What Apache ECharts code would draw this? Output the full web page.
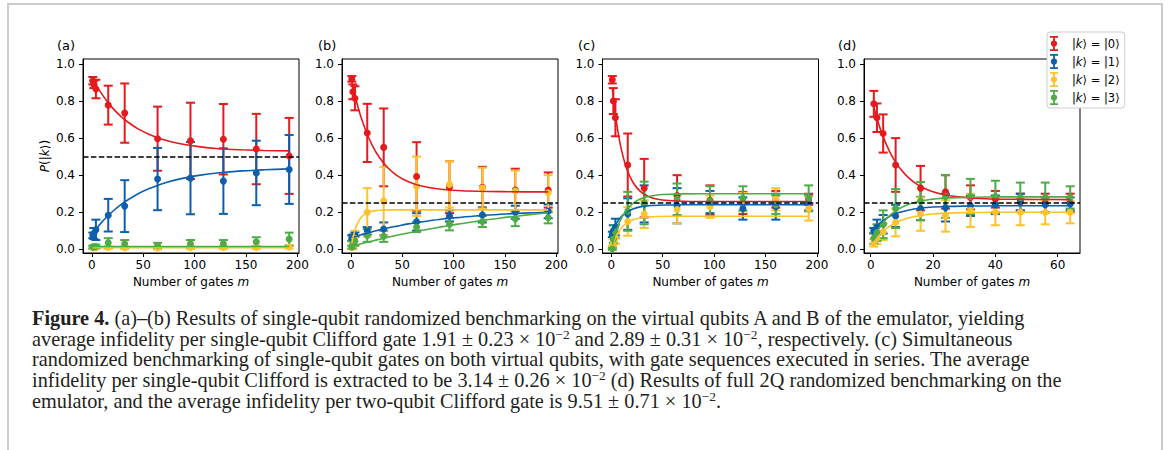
<!DOCTYPE html>
<html>
<head>
<meta charset="utf-8">
<script src="https://cdn.jsdelivr.net/npm/echarts@6/dist/echarts.min.js"></script>
<style>
  html, body { margin: 0; padding: 0; background: #fff; }
  #wrap { position: relative; width: 1168px; height: 450px; overflow: hidden; }
  #frame { position: absolute; left: 7px; top: 3px; width: 1156px; height: 470px; border: 2px solid #cbcbcb; box-sizing: border-box; }
  #chart { position: absolute; left: 0; top: 0; width: 1168px; height: 300px; }
  #caption { position: absolute; left: 32px; top: 308px; font-family: "Liberation Serif", serif; font-size: 20.3px; line-height: 20.7px; color: #231f20; white-space: nowrap; }
  #caption sup { font-size: 0.66em; line-height: 0; vertical-align: 0; position: relative; top: -0.5em; }
</style>
</head>
<body>
<div id="wrap">
  <div id="frame"></div>
  <div id="chart"></div>
  <div id="caption">
    <b>Figure 4.</b> (a)–(b) Results of single-qubit randomized benchmarking on the virtual qubits A and B of the emulator, yielding<br>
    average infidelity per single-qubit Clifford gate 1.91 ± 0.23 × 10<sup>−2</sup> and 2.89 ± 0.31 × 10<sup>−2</sup>, respectively. (c) Simultaneous<br>
    randomized benchmarking of single-qubit gates on both virtual qubits, with gate sequences executed in series. The average<br>
    infidelity per single-qubit Clifford is extracted to be 3.14 ± 0.26 × 10<sup>−2</sup> (d) Results of full 2Q randomized benchmarking on the<br>
    emulator, and the average infidelity per two-qubit Clifford gate is 9.51 ± 0.71 × 10<sup>−2</sup>.
  </div>
</div>
<script>
// number of gates m
const mABC = [1, 2, 4, 16, 32, 64, 96, 128, 160, 192];
const mD = [1, 2, 4, 8, 16, 24, 32, 40, 48, 56, 64];
const fitMABC = [1, 3, 6, 10, 15, 21, 28, 36, 45, 56, 70, 86, 104, 124, 146, 168, 192];
const fitMD = [1, 2, 3, 5, 7, 9, 12, 15, 19, 24, 30, 37, 45, 54, 64];

const stateNames = ['|k⟩ = |0⟩', '|k⟩ = |1⟩', '|k⟩ = |2⟩', '|k⟩ = |3⟩'];
const panelLabels = ['(a)', '(b)', '(c)', '(d)'];
const refLevels = [0.5, 0.25, 0.25, 0.25];
const xTicksABC = [0, 50, 100, 150, 200];
const xTicksD = [0, 20, 40, 60];
const yTicks = [0, 0.2, 0.4, 0.6, 0.8, 1.0];

// rows: |0>, |1>, |2>, |3>
const aMean = [
  [0.91, 0.89, 0.865, 0.778, 0.735, 0.597, 0.585, 0.594, 0.541, 0.504],
  [0.075, 0.085, 0.105, 0.184, 0.233, 0.379, 0.384, 0.368, 0.412, 0.431],
  [0.008, 0.008, 0.009, 0.01, 0.008, 0.007, 0.009, 0.01, 0.01, 0.012],
  [0.012, 0.013, 0.015, 0.035, 0.03, 0.02, 0.03, 0.03, 0.04, 0.055]
];
const aErr = [
  [0.02, 0.02, 0.05, 0.105, 0.16, 0.173, 0.206, 0.19, 0.19, 0.205],
  [0.015, 0.03, 0.055, 0.088, 0.14, 0.168, 0.195, 0.177, 0.174, 0.186],
  [0.006, 0.006, 0.006, 0.007, 0.007, 0.007, 0.007, 0.008, 0.008, 0.008],
  [0.008, 0.008, 0.01, 0.025, 0.02, 0.015, 0.02, 0.02, 0.025, 0.035]
];
const aFit = [
  [0.918, 0.898, 0.870, 0.836, 0.798, 0.758, 0.719, 0.683, 0.650, 0.620, 0.591, 0.570, 0.554, 0.543, 0.537, 0.533, 0.531],
  [0.088, 0.102, 0.122, 0.148, 0.177, 0.208, 0.240, 0.270, 0.300, 0.328, 0.357, 0.380, 0.399, 0.413, 0.423, 0.429, 0.434],
  [0.009, 0.009, 0.009, 0.009, 0.009, 0.009, 0.009, 0.009, 0.009, 0.009, 0.009, 0.009, 0.009, 0.009, 0.009, 0.009, 0.009],
  [0.015, 0.015, 0.015, 0.015, 0.015, 0.015, 0.015, 0.015, 0.015, 0.015, 0.015, 0.015, 0.015, 0.015, 0.015, 0.015, 0.015]
];

const bMean = [
  [0.92, 0.85, 0.815, 0.628, 0.55, 0.393, 0.335, 0.335, 0.32, 0.32],
  [0.06, 0.065, 0.08, 0.10, 0.11, 0.148, 0.18, 0.185, 0.20, 0.205],
  [0.01, 0.02, 0.06, 0.20, 0.26, 0.34, 0.35, 0.33, 0.315, 0.305],
  [0.012, 0.03, 0.045, 0.075, 0.07, 0.12, 0.135, 0.15, 0.165, 0.17]
];
const bErr = [
  [0.015, 0.04, 0.065, 0.157, 0.21, 0.185, 0.14, 0.11, 0.115, 0.095],
  [0.015, 0.015, 0.012, 0.02, 0.035, 0.047, 0.03, 0.04, 0.035, 0.037],
  [0.008, 0.02, 0.04, 0.13, 0.185, 0.16, 0.125, 0.11, 0.11, 0.095],
  [0.008, 0.015, 0.025, 0.035, 0.03, 0.027, 0.033, 0.03, 0.04, 0.03]
];
const bFit = [
  [0.904, 0.854, 0.788, 0.712, 0.634, 0.560, 0.494, 0.440, 0.398, 0.365, 0.340, 0.325, 0.317, 0.313, 0.311, 0.310, 0.310],
  [0.062, 0.066, 0.071, 0.078, 0.086, 0.095, 0.105, 0.115, 0.125, 0.137, 0.149, 0.161, 0.171, 0.181, 0.189, 0.195, 0.200],
  [0.032, 0.082, 0.133, 0.171, 0.194, 0.206, 0.211, 0.213, 0.213, 0.213, 0.213, 0.213, 0.213, 0.213, 0.213, 0.213, 0.213],
  [0.017, 0.020, 0.024, 0.030, 0.037, 0.045, 0.054, 0.065, 0.076, 0.088, 0.103, 0.119, 0.136, 0.152, 0.169, 0.183, 0.197]
];

const cMean = [
  [0.915, 0.80, 0.71, 0.455, 0.33, 0.29, 0.265, 0.25, 0.27, 0.27],
  [0.08, 0.10, 0.12, 0.19, 0.245, 0.235, 0.255, 0.22, 0.23, 0.25],
  [0.008, 0.04, 0.06, 0.15, 0.19, 0.215, 0.23, 0.255, 0.27, 0.22],
  [0.003, 0.055, 0.095, 0.205, 0.25, 0.27, 0.26, 0.275, 0.24, 0.275]
];
const cErr = [
  [0.02, 0.07, 0.10, 0.17, 0.158, 0.11, 0.08, 0.06, 0.045, 0.03],
  [0.015, 0.03, 0.045, 0.085, 0.10, 0.095, 0.06, 0.06, 0.07, 0.04],
  [0.008, 0.015, 0.03, 0.077, 0.075, 0.075, 0.06, 0.05, 0.06, 0.065],
  [0.005, 0.02, 0.035, 0.105, 0.115, 0.085, 0.08, 0.065, 0.05, 0.07]
];
const cFit = [
  [0.871, 0.771, 0.651, 0.534, 0.435, 0.362, 0.314, 0.285, 0.270, 0.263, 0.259, 0.258, 0.258, 0.258, 0.258, 0.258, 0.258],
  [0.094, 0.119, 0.149, 0.178, 0.201, 0.218, 0.229, 0.235, 0.238, 0.239, 0.240, 0.240, 0.240, 0.240, 0.240, 0.240, 0.240],
  [0.018, 0.048, 0.083, 0.116, 0.141, 0.159, 0.169, 0.174, 0.177, 0.178, 0.178, 0.178, 0.178, 0.178, 0.178, 0.178, 0.178],
  [0.024, 0.066, 0.118, 0.170, 0.214, 0.248, 0.271, 0.285, 0.293, 0.297, 0.299, 0.300, 0.300, 0.300, 0.300, 0.300, 0.300]
];

const dMean = [
  [0.785, 0.71, 0.625, 0.455, 0.33, 0.31, 0.28, 0.27, 0.255, 0.25, 0.25],
  [0.10, 0.12, 0.135, 0.18, 0.22, 0.225, 0.235, 0.24, 0.255, 0.24, 0.245],
  [0.035, 0.06, 0.095, 0.145, 0.19, 0.18, 0.21, 0.20, 0.20, 0.20, 0.20],
  [0.06, 0.09, 0.135, 0.22, 0.26, 0.285, 0.285, 0.285, 0.28, 0.28, 0.28]
];
const dErr = [
  [0.07, 0.077, 0.103, 0.145, 0.12, 0.09, 0.065, 0.045, 0.045, 0.05, 0.05],
  [0.015, 0.04, 0.05, 0.06, 0.063, 0.075, 0.055, 0.05, 0.045, 0.04, 0.035],
  [0.02, 0.03, 0.045, 0.075, 0.09, 0.085, 0.09, 0.07, 0.07, 0.065, 0.06],
  [0.03, 0.045, 0.075, 0.105, 0.103, 0.115, 0.095, 0.085, 0.08, 0.08, 0.06]
];
const dFit = [
  [0.768, 0.707, 0.654, 0.566, 0.497, 0.445, 0.388, 0.349, 0.316, 0.293, 0.280, 0.273, 0.270, 0.269, 0.268],
  [0.110, 0.128, 0.143, 0.167, 0.185, 0.198, 0.211, 0.220, 0.227, 0.231, 0.233, 0.234, 0.235, 0.235, 0.235],
  [0.037, 0.060, 0.079, 0.111, 0.134, 0.151, 0.169, 0.180, 0.189, 0.195, 0.198, 0.199, 0.200, 0.200, 0.200],
  [0.065, 0.096, 0.122, 0.164, 0.195, 0.218, 0.242, 0.257, 0.269, 0.276, 0.280, 0.282, 0.283, 0.283, 0.283]
];

const colors = ['#e41a1c', '#0b5fad', '#fec22d', '#4dac47'];
const font = 'DejaVu Sans';

const panels = [
  { m: mABC, mean: aMean, err: aErr, fitM: fitMABC, fit: aFit, xMin: -8.55, xMax: 201.55, ticks: xTicksABC, left: 83, labelLeft: 57 },
  { m: mABC, mean: bMean, err: bErr, fitM: fitMABC, fit: bFit, xMin: -8.55, xMax: 201.55, ticks: xTicksABC, left: 342, labelLeft: 318 },
  { m: mABC, mean: cMean, err: cErr, fitM: fitMABC, fit: cFit, xMin: -8.55, xMax: 201.55, ticks: xTicksABC, left: 602.5, labelLeft: 578 },
  { m: mD, mean: dMean, err: dErr, fitM: fitMD, fit: dFit, xMin: -2.15, xMax: 67.15, ticks: xTicksD, left: 864, labelLeft: 838 }
];

const errIcon = 'path://M0.5,0H8.5V1.8H0.5Z M3.6,0H5.4V15H3.6Z M0.5,13.2H8.5V15H0.5Z M7.6,7.5A3.1,3.1 0 1 1 1.4,7.5A3.1,3.1 0 1 1 7.6,7.5Z';

function errorBars(color) {
  return function (params, api) {
    const x = api.value(0), y = api.value(1), e = api.value(2);
    const top = api.coord([x, y + e]);
    const bot = api.coord([x, y - e]);
    const w = 4.5;
    const style = { stroke: color, lineWidth: 2 };
    return {
      type: 'group',
      children: [
        { type: 'line', shape: { x1: top[0], y1: top[1], x2: bot[0], y2: bot[1] }, style: style },
        { type: 'line', shape: { x1: top[0] - w, y1: top[1], x2: top[0] + w, y2: top[1] }, style: style },
        { type: 'line', shape: { x1: bot[0] - w, y1: bot[1], x2: bot[0] + w, y2: bot[1] }, style: style }
      ]
    };
  };
}

const grids = [], xAxes = [], yAxes = [], titles = [], series = [];
panels.forEach(function (p, i) {
  grids.push({ left: p.left, top: 59, width: 216, height: 194, show: true, borderColor: '#000', borderWidth: 1, containLabel: false });
  titles.push({ text: panelLabels[i], left: p.labelLeft, top: 39, padding: 0,
    textStyle: { fontFamily: font, fontSize: 13, fontWeight: 'normal', color: '#000' } });
  xAxes.push({
    type: 'value', gridIndex: i, min: p.xMin, max: p.xMax,
    name: 'Number of gates {i|m}', nameLocation: 'middle', nameGap: 17,
    nameTextStyle: { fontFamily: font, fontSize: 12, color: '#000',
      rich: { i: { fontFamily: font, fontSize: 12, fontStyle: 'italic', color: '#000' } } },
    axisLine: { show: true, onZero: false, lineStyle: { color: '#000', width: 1 } },
    axisTick: { show: true, length: 4, customValues: p.ticks, lineStyle: { color: '#000' } },
    axisLabel: { customValues: p.ticks, color: '#000', fontFamily: font, fontSize: 12, margin: 6,
      formatter: function (v) { return String(v); } },
    splitLine: { show: false }
  });
  yAxes.push({
    type: 'value', gridIndex: i, min: -0.02, max: 1.027,
    name: i === 0 ? '{i|P}(|{i|k}⟩)' : '', nameLocation: 'middle', nameGap: 32, nameRotate: 90,
    nameTextStyle: { fontFamily: font, fontSize: 12, color: '#000',
      rich: { i: { fontFamily: font, fontSize: 12, fontStyle: 'italic', color: '#000' } } },
    axisLine: { show: true, onZero: false, lineStyle: { color: '#000', width: 1 } },
    axisTick: { show: true, length: 4, customValues: yTicks, lineStyle: { color: '#000' } },
    axisLabel: { customValues: yTicks, color: '#000', fontFamily: font, fontSize: 12, margin: 8,
      formatter: function (v) { return v.toFixed(1); } },
    splitLine: { show: false }
  });

  for (let s = 0; s < 4; s++) {
    series.push({
      type: 'custom', xAxisIndex: i, yAxisIndex: i,
      renderItem: errorBars(colors[s]),
      encode: { x: 0, y: 1 },
      data: p.m.map(function (x, j) { return [x, p.mean[s][j], p.err[s][j]]; }),
      silent: true
    });
    series.push({
      type: 'scatter', name: stateNames[s], xAxisIndex: i, yAxisIndex: i,
      symbolSize: 7, itemStyle: { color: colors[s], opacity: 1 },
      data: p.m.map(function (x, j) { return [x, p.mean[s][j]]; }),
      silent: true
    });
    const fitSeries = {
      type: 'line', name: 'fit' + i + s, xAxisIndex: i, yAxisIndex: i,
      smooth: 0.3, showSymbol: false, symbol: 'none',
      lineStyle: { color: colors[s], width: 1.6 },
      data: p.fitM.map(function (x, j) { return [x, p.fit[s][j]]; }),
      silent: true
    };
    if (s === 3) {
      fitSeries.markLine = {
        silent: true, symbol: 'none', label: { show: false }, z: 10,
        lineStyle: { color: '#000', type: [5.5, 2.4], width: 1.5 },
        data: [{ yAxis: refLevels[i] }]
      };
    }
    series.push(fitSeries);
  }
});

const chart = echarts.init(document.getElementById('chart'), null, { renderer: 'svg' });
chart.setOption({
  animation: false,
  backgroundColor: 'transparent',
  title: titles,
  grid: grids,
  xAxis: xAxes,
  yAxis: yAxes,
  legend: {
    data: stateNames, orient: 'vertical', left: 1047, top: 32,
    padding: [4, 5, 3, 3], itemGap: 3, itemWidth: 26, itemHeight: 15,
    icon: errIcon, selectedMode: false,
    backgroundColor: '#fff', borderColor: '#cccccc', borderWidth: 1, borderRadius: 3,
    formatter: function (n) { return n.replace('k', '{i|k}'); },
    textStyle: { fontFamily: font, fontSize: 11.5, color: '#000',
      rich: { i: { fontFamily: font, fontSize: 11.5, fontStyle: 'italic', color: '#000' } } }
  },
  series: series
});
</script>
</body>
</html>
